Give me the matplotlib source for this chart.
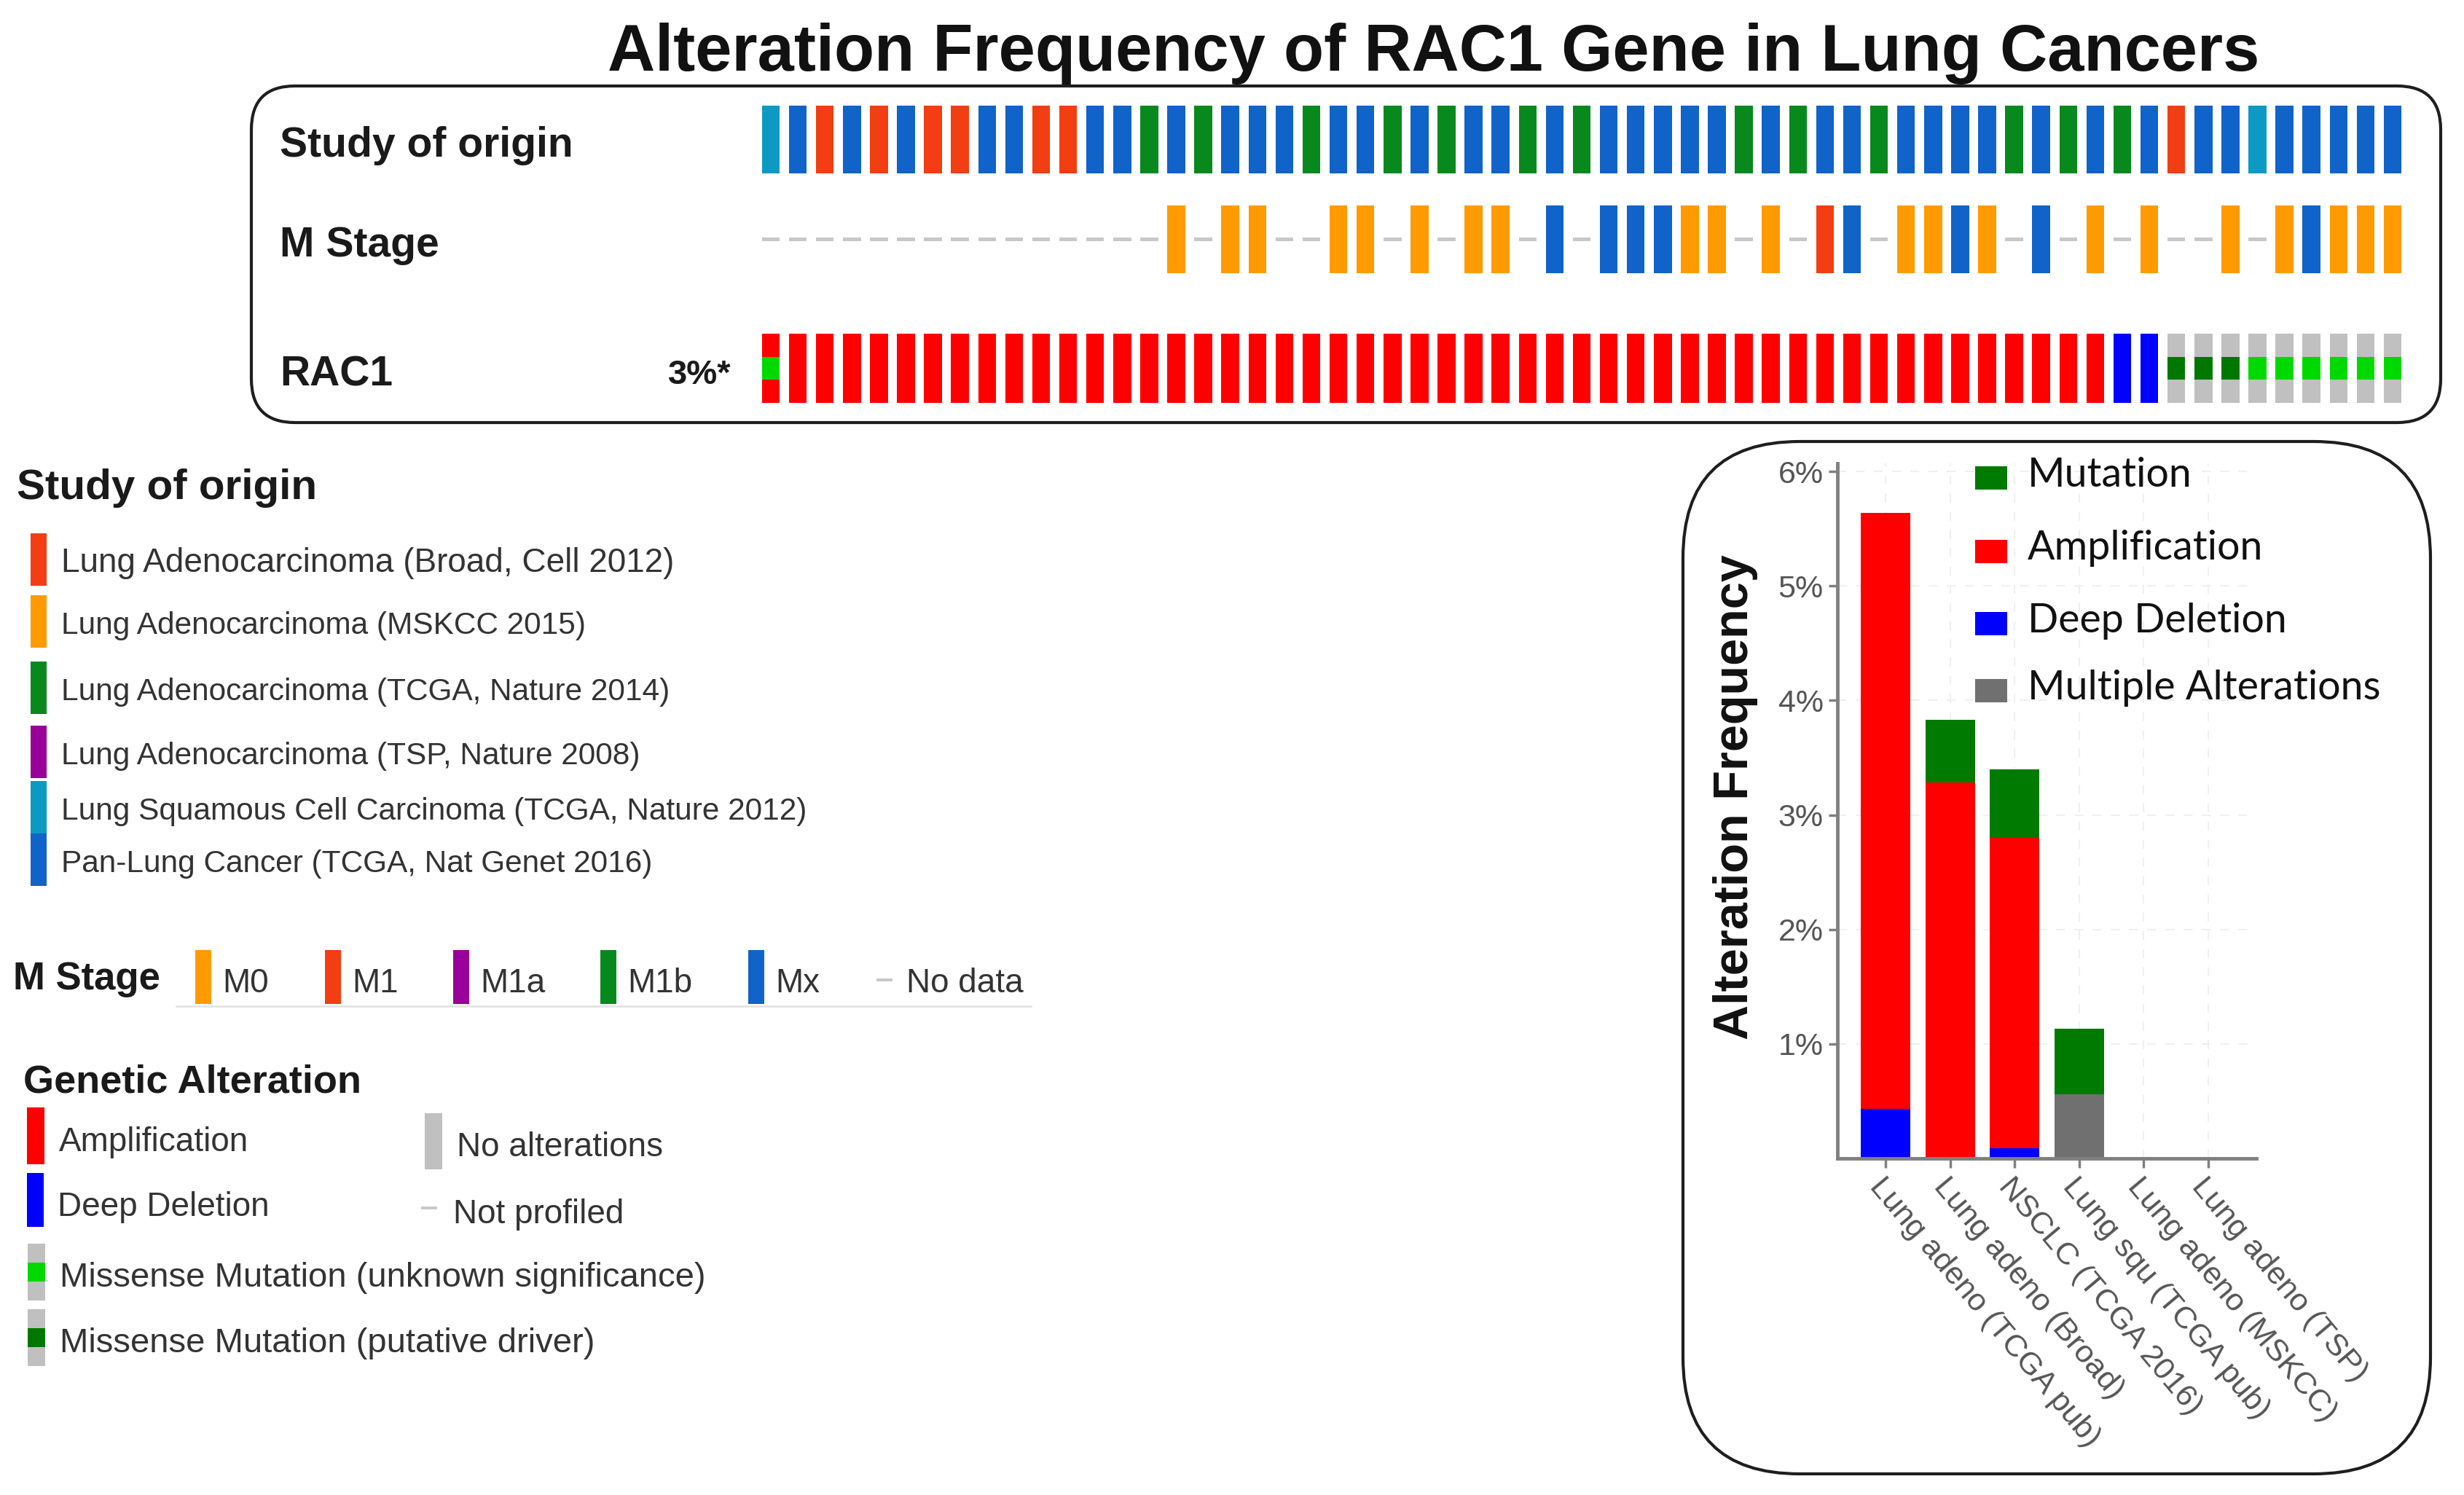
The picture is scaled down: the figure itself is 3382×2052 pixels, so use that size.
import numpy as np
import matplotlib
matplotlib.use("Agg")
import matplotlib.pyplot as plt
from matplotlib.patches import FancyBboxPatch, Rectangle

plt.rcParams['font.family'] = ['Liberation Sans', 'DejaVu Sans']

W, H = 3382, 2052

# ---- oncoprint data (one entry per altered sample) ----
study = ['squ', 'pan', 'broad', 'pan', 'broad', 'pan', 'broad', 'broad', 'pan', 'pan',
         'broad', 'broad', 'pan', 'pan', 'tcga', 'pan', 'tcga', 'pan', 'pan', 'pan',
         'tcga', 'pan', 'pan', 'tcga', 'pan', 'tcga', 'pan', 'pan', 'tcga', 'pan',
         'tcga', 'pan', 'pan', 'pan', 'pan', 'pan', 'tcga', 'pan', 'tcga', 'pan',
         'pan', 'tcga', 'pan', 'pan', 'pan', 'pan', 'tcga', 'pan', 'tcga', 'pan',
         'tcga', 'pan', 'broad', 'pan', 'pan', 'squ', 'pan', 'pan', 'pan', 'pan', 'pan']
m_stage = ['nd'] * 15 + ['M0', 'nd', 'M0', 'M0', 'nd', 'nd', 'M0', 'M0', 'nd', 'M0',
                         'nd', 'M0', 'M0', 'nd', 'Mx', 'nd', 'Mx', 'Mx', 'Mx', 'M0',
                         'M0', 'nd', 'M0', 'nd', 'M1', 'Mx', 'nd', 'M0', 'M0', 'Mx',
                         'M0', 'nd', 'Mx', 'nd', 'M0', 'nd', 'M0', 'nd', 'nd', 'M0',
                         'nd', 'M0', 'Mx', 'M0', 'M0', 'M0']
rac1_cna = ['amp'] * 50 + ['del'] * 2 + ['none'] * 9
rac1_mut = ['vus'] + [''] * 51 + ['driver'] * 3 + ['vus'] * 6

study_labels = ['Lung Adenocarcinoma (Broad, Cell 2012)',
                'Lung Adenocarcinoma (MSKCC 2015)',
                'Lung Adenocarcinoma (TCGA, Nature 2014)',
                'Lung Adenocarcinoma (TSP, Nature 2008)',
                'Lung Squamous Cell Carcinoma (TCGA, Nature 2012)',
                'Pan-Lung Cancer (TCGA, Nat Genet 2016)']
study_keys = ['broad', 'msk', 'tcga', 'tsp', 'squ', 'pan']
study_colors = {'broad': '#f23e12', 'msk': '#ff9a00', 'tcga': '#07891e',
                'tsp': '#990099', 'squ': '#0c9ac2', 'pan': '#1063c9'}

m_labels = ['M0', 'M1', 'M1a', 'M1b', 'Mx']
m_colors = {'M0': '#ff9a00', 'M1': '#f23e12', 'M1a': '#990099',
            'M1b': '#07891e', 'Mx': '#1063c9'}

cna_colors = {'amp': '#ff0000', 'del': '#0000ff', 'none': '#c0c0c0'}
mut_colors = {'vus': '#00d900', 'driver': '#007800'}

# ---- bar chart data (% of samples) ----
categories = ['Lung adeno (TCGA pub)', 'Lung adeno (Broad)', 'NSCLC (TCGA 2016)',
              'Lung squ (TCGA pub)', 'Lung adeno (MSKCC)', 'Lung adeno (TSP)']
deep_deletion = [0.43, 0.0, 0.09, 0.0, 0.0, 0.0]
multiple_alt = [0.0, 0.0, 0.0, 0.56, 0.0, 0.0]
amplification = [5.21, 3.28, 2.71, 0.0, 0.0, 0.0]
mutation = [0.0, 0.55, 0.60, 0.57, 0.0, 0.0]

fig = plt.figure(figsize=(W / 100, H / 100), dpi=100)
bg = fig.add_axes([0, 0, 1, 1])
bg.set_xlim(0, W)
bg.set_ylim(H, 0)
bg.axis('off')


def px_axes(left, top, right, bottom):
    ax = fig.add_axes([left / W, 1 - bottom / H, (right - left) / W, (bottom - top) / H])
    ax.set_facecolor('none')
    return ax


def rbox(x0, y0, x1, y1, r):
    bg.add_patch(FancyBboxPatch((x0, y0), x1 - x0, y1 - y0,
                                boxstyle=f"round,pad=0,rounding_size={r}",
                                fc='none', ec='#1e1e1e', lw=3))


bg.text(1968, 97, 'Alteration Frequency of RAC1 Gene in Lung Cancers',
        fontsize=65, fontweight='bold', ha='center', va='baseline', color='#111111')

# ---- oncoprint ----
rbox(345, 118, 3350, 580, 60)
for lab, yb in [('Study of origin', 215), ('M Stage', 352), ('RAC1', 530)]:
    bg.text(384, yb, lab, fontsize=41, fontweight='bold', color='#1a1a1a', va='baseline')
bg.text(1004, 527, '3%*', fontsize=34, fontweight='bold', color='#1a1a1a',
        ha='right', va='baseline')

n = len(study)
x = np.arange(n)
bw = 0.66
cl, cr = 1039.5, 3302.5

ax_s = px_axes(cl, 145, cr, 238)
ax_s.bar(x, 1, bw, color=[study_colors[s] for s in study])

ax_m = px_axes(cl, 282, cr, 375)
has = np.array([m != 'nd' for m in m_stage])
ax_m.bar(x[has], 1, bw, color=[m_colors[m] for m in np.array(m_stage)[has]])
ax_m.bar(x[~has], 0.045, bw, bottom=0.478, color='#c8c8c8')

ax_r = px_axes(cl, 458, cr, 553)
ax_r.bar(x, 1, bw, color=[cna_colors[c] for c in rac1_cna])
mut_idx = np.array([m != '' for m in rac1_mut])
ax_r.bar(x[mut_idx], 1 / 3, bw, bottom=1 / 3,
         color=[mut_colors[m] for m in np.array(rac1_mut)[mut_idx]])

for ax in (ax_s, ax_m, ax_r):
    ax.set_xlim(-0.5, n - 0.5)
    ax.set_ylim(0, 1)
    ax.axis('off')

# ---- left legends ----
txt = '#333333'
bg.text(23, 685, 'Study of origin', fontsize=42, fontweight='bold', color='#1a1a1a')
study_rows = [768, 853, 944, 1032, 1108, 1180]
study_fs = [33, 30.5, 30.5, 30.5, 30.5, 30.5]
for key, lab, yc, fs in zip(study_keys, study_labels, study_rows, study_fs):
    bg.add_patch(Rectangle((42, yc - 36), 22, 72, color=study_colors[key], lw=0))
    bg.text(84, yc + 17, lab, fontsize=fs, color=txt, va='baseline')

bg.text(18, 1358, 'M Stage', fontsize=38, fontweight='bold', color='#1a1a1a')
m_sw_x = [268, 446, 622, 824, 1027]
for lab, sx in zip(m_labels, m_sw_x):
    bg.add_patch(Rectangle((sx, 1304), 22, 74, color=m_colors[lab], lw=0))
    bg.text(sx + 37, 1362, lab, fontsize=33, color=txt, va='baseline')
bg.add_patch(Rectangle((1203, 1343), 22, 4, color='#c8c8c8', lw=0))
bg.text(1244, 1362, 'No data', fontsize=33, color=txt, va='baseline')
bg.plot([242, 1415], [1381, 1381], color='#e3e3e3', lw=2)

bg.text(32, 1500, 'Genetic Alteration', fontsize=39, fontweight='bold', color='#1a1a1a')
bg.add_patch(Rectangle((37, 1520), 24, 78, color=cna_colors['amp'], lw=0))
bg.text(81, 1580, 'Amplification', fontsize=33, color=txt, va='baseline')
bg.add_patch(Rectangle((37, 1610), 23, 74, color=cna_colors['del'], lw=0))
bg.text(79, 1669, 'Deep Deletion', fontsize=33, color=txt, va='baseline')
for yc, key, lab in [(1746, 'vus', 'Missense Mutation (unknown significance)'),
                     (1836, 'driver', 'Missense Mutation (putative driver)')]:
    bg.add_patch(Rectangle((38, yc - 39), 24, 78, color=cna_colors['none'], lw=0))
    bg.add_patch(Rectangle((38, yc - 13), 24, 26, color=mut_colors[key], lw=0))
    bg.text(82, yc + 20, lab, fontsize=34, color=txt, va='baseline')
bg.add_patch(Rectangle((583, 1528), 24, 77, color=cna_colors['none'], lw=0))
bg.text(627, 1587, 'No alterations', fontsize=33, color=txt, va='baseline')
bg.add_patch(Rectangle((578, 1656), 22, 4, color='#c8c8c8', lw=0))
bg.text(622, 1679, 'Not profiled', fontsize=33, color=txt, va='baseline')

# ---- bar chart ----
rbox(2310, 606, 3336, 2023, 160)
ax = px_axes(2522, 636, 3097, 1590)
xc = np.arange(len(categories))
bottom = np.zeros(len(categories))
for vals, color in [(deep_deletion, '#0000ff'), (multiple_alt, '#707070'),
                    (amplification, '#ff0000'), (mutation, '#007a00')]:
    ax.bar(xc, vals, 0.77, bottom=bottom, color=color, zorder=2)
    bottom += np.array(vals)

ax.set_xlim(-0.75, len(categories) - 0.25)
ax.set_ylim(0, 6.07)
ax.set_yticks([1, 2, 3, 4, 5, 6])
ax.set_yticklabels([f'{v}%' for v in range(1, 7)])
ax.set_xticks(xc)
ax.set_xticklabels(categories, rotation=-50, ha='left', va='top', rotation_mode='anchor')
ax.grid(True, color='#f0f0f0', linestyle=(0, (6, 6)), lw=1.5)
ax.set_axisbelow(True)
for side in ('top', 'right'):
    ax.spines[side].set_visible(False)
for side in ('left', 'bottom'):
    ax.spines[side].set_color('#808080')
    ax.spines[side].set_linewidth(3.5)
ax.tick_params(colors='#808080', length=9, width=2.5, labelcolor='#555555',
               labelsize=31, pad=5)
ax.set_ylabel('Alteration Frequency', fontsize=48, fontweight='bold', color='#111111')
ax.yaxis.set_label_coords(-0.19, 0.52)

# legend drawn on an overlay so the grid stays behind it
ov = fig.add_axes([0, 0, 1, 1])
ov.set_xlim(0, W)
ov.set_ylim(H, 0)
ov.axis('off')
leg_labels = ['Mutation', 'Amplification', 'Deep Deletion', 'Multiple Alterations']
leg_colors = ['#007a00', '#ff0000', '#0000ff', '#707070']
leg_rows = [656, 757, 856, 948]
for lab, col, yc in zip(leg_labels, leg_colors, leg_rows):
    ov.add_patch(Rectangle((2711, yc - 16), 44, 32, color=col, lw=0))
    ov.text(2783, yc - 4, lab, fontsize=40, family=['Lato', 'DejaVu Sans'],
            color='#111111', va='center')

fig.savefig('out.png', dpi=100, facecolor='white')
